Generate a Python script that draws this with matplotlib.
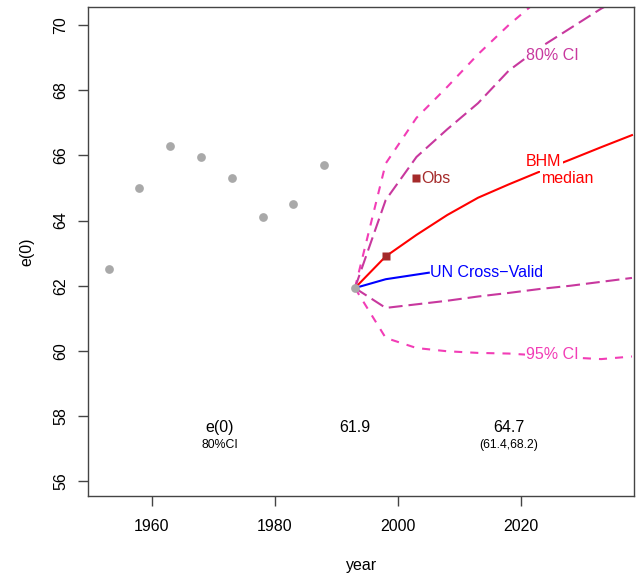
import numpy as np
import matplotlib
matplotlib.use("Agg")
import matplotlib.pyplot as plt

plt.rcParams['font.family'] = ['Liberation Sans', 'DejaVu Sans']
plt.rcParams['lines.scale_dashes'] = False

# observed e(0), 5-year periods
obs_years = [1953, 1958, 1963, 1968, 1973, 1978, 1983, 1988, 1993]
obs_e0 = [62.5, 65.0, 66.3, 65.95, 65.3, 64.1, 64.5, 65.7, 61.93]

# BHM projection and intervals
proj_years = [1993, 1998, 2003, 2008, 2013, 2018, 2023, 2028, 2033, 2038]
bhm_median = [61.93, 62.9, 63.56, 64.17, 64.7, 65.11, 65.5, 65.87, 66.25, 66.62]
ci80_low = [61.93, 61.32, 61.43, 61.54, 61.67, 61.78, 61.9, 62.0, 62.12, 62.24]
ci80_high = [61.93, 64.63, 65.95, 66.8, 67.6, 68.6, 69.3, 69.9, 70.5, 71.0]
ci95_low = [61.93, 60.4, 60.09, 59.99, 59.94, 59.92, 59.86, 59.8, 59.75, 59.83]
ci95_high = [61.93, 65.75, 67.15, 68.1, 69.1, 70.0, 70.8, 71.5, 72.1, 72.7]

# UN cross-validation
un_years = [1993, 1998, 2005]
un_cv = [61.93, 62.2, 62.4]

# observed value used for checking
check_years = [1998]
check_e0 = [62.9]

# summary table at the bottom
table_x = [1971, 1993, 2018]
table_top = ["e(0)", "61.9", "64.7"]
table_bottom = ["80%CI", "", "(61.4,68.2)"]

col80 = "#C8389E"
col95 = "#F23DB6"
brown = "#A52A2A"
fs = 11.5

fig = plt.figure(figsize=(6.41, 5.76), dpi=100)
ax = fig.add_axes([0.1378, 0.1394, 0.851, 0.8479])

ax.plot(proj_years, ci95_high, color=col95, lw=1.5, dashes=(5.8, 5.8))
ax.plot(proj_years, ci95_low, color=col95, lw=1.5, dashes=(5.8, 5.8))
ax.plot(proj_years, ci80_high, color=col80, lw=1.5, dashes=(10, 4.3))
ax.plot(proj_years, ci80_low, color=col80, lw=1.5, dashes=(10, 4.3))
ax.plot(proj_years, bhm_median, color="red", lw=1.5)
ax.plot(un_years, un_cv, color="blue", lw=1.5)
ax.plot(obs_years, obs_e0, "o", color="#A9A9A9", ms=6.3, mec="none")
ax.plot(check_years, check_e0, "s", color=brown, ms=6, mec="none")

# labels on the curves
bb = dict(facecolor="white", edgecolor="none", pad=1)
ax.text(2020.8, 69.07, "80% CI", color=col80, fontsize=fs, va="center", bbox=bb)
ax.text(2020.8, 59.89, "95% CI", color=col95, fontsize=fs, va="center", bbox=bb)
ax.text(2020.8, 65.8, "BHM", color="red", fontsize=fs, va="center", bbox=bb)
ax.text(2027.6, 65.3, "median", color="red", fontsize=fs, va="center", ha="center", bbox=bb)
ax.plot([2003], [65.3], "s", color=brown, ms=6, mec="none")
ax.text(2003.7, 65.3, "Obs", color=brown, fontsize=fs, va="center")
ax.text(2005.2, 62.4, "UN Cross\u2212Valid", color="blue", fontsize=fs, va="center")

for x, t, b in zip(table_x, table_top, table_bottom):
    ax.text(x, 57.64, t, fontsize=fs, ha="center", va="center")
    ax.text(x, 57.1, b, fontsize=8.8, ha="center", va="center")

ax.set_xlim(1949.7, 2038.3)
ax.set_ylim(55.56, 70.54)
ax.set_xticks([1960, 1980, 2000, 2020])
ax.set_yticks(np.arange(56, 71, 2))
ax.tick_params(axis="both", direction="out", length=7, width=1, color="#444444",
               labelsize=fs)
ax.tick_params(axis="x", pad=9.5)
ax.tick_params(axis="y", pad=7.5)
for lab in ax.get_yticklabels():
    lab.set_rotation(90)
    lab.set_va("center")
for s in ax.spines.values():
    s.set_color("#444444")
    s.set_linewidth(1)

ax.set_xlabel("year", fontsize=fs, va="center")
ax.set_ylabel("e(0)", fontsize=fs, va="center")
ax.xaxis.set_label_coords(0.5, -0.142)
ax.yaxis.set_label_coords(-0.112, 0.5)

fig.savefig("out.png", dpi=100)
